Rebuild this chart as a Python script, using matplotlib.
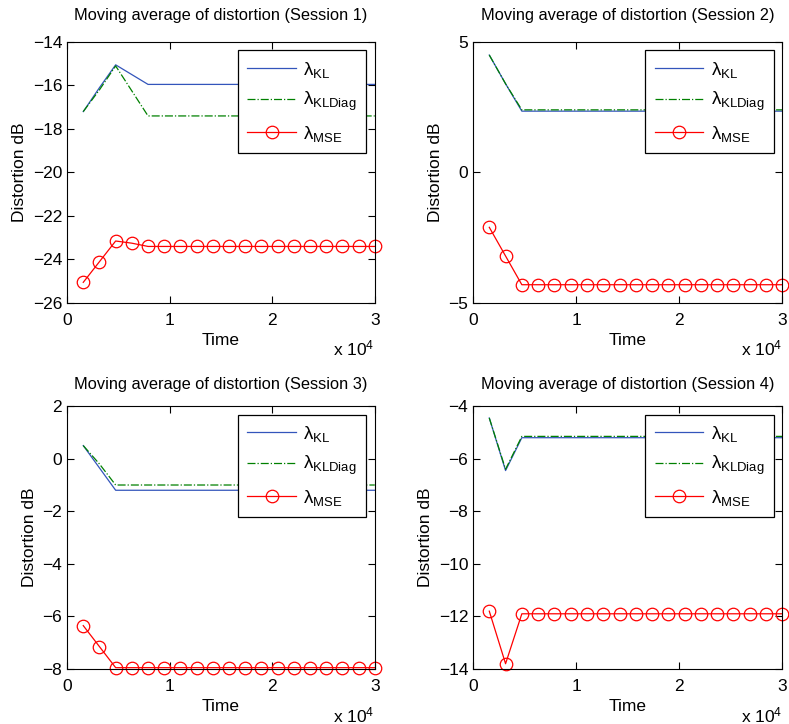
import matplotlib
matplotlib.use("Agg")
from matplotlib import pyplot as plt
from matplotlib.ticker import FuncFormatter, MultipleLocator

plt.rcParams['font.family'] = ['Liberation Sans', 'DejaVu Sans']
plt.rcParams['mathtext.fontset'] = 'custom'
plt.rcParams['mathtext.rm'] = 'Liberation Sans'
plt.rcParams['mathtext.it'] = 'Liberation Sans'

# sample times (same for all sessions)
time = [1579, 3158, 4737, 6316, 7895, 9474, 11053, 12632, 14211, 15789,
        17368, 18947, 20526, 22105, 23684, 25263, 26842, 28421, 30000]

# Session 1
kl_1 = [-17.2, -16.1, -15.05, -15.5, -15.95] + [-15.95] * 14
kldiag_1 = [-17.2, -16.2, -15.1, -16.25, -17.4] + [-17.4] * 14
mse_1 = [-25.05, -24.1, -23.15, -23.25, -23.4] + [-23.4] * 14

# Session 2
kl_2 = [4.5, 3.4, 2.35] + [2.35] * 16
kldiag_2 = [4.5, 3.4, 2.4] + [2.4] * 16
mse_2 = [-2.1, -3.2, -4.3] + [-4.3] * 16

# Session 3
kl_3 = [0.5, -0.35, -1.2] + [-1.2] * 16
kldiag_3 = [0.5, -0.2, -1.0] + [-1.0] * 16
mse_3 = [-6.35, -7.15, -7.95] + [-7.95] * 16

# Session 4
kl_4 = [-4.45, -6.45, -5.2] + [-5.2] * 16
kldiag_4 = [-4.45, -6.4, -5.15] + [-5.15] * 16
mse_4 = [-11.8, -13.8, -11.9] + [-11.9] * 16

sessions = [1, 2, 3, 4]
kl = [kl_1, kl_2, kl_3, kl_4]
kldiag = [kldiag_1, kldiag_2, kldiag_3, kldiag_4]
mse = [mse_1, mse_2, mse_3, mse_4]
ylims = [(-26, -14), (-5, 5), (-8, 2), (-14, -4)]
ysteps = [2, 5, 2, 2]

# axes boxes in figure fractions: left, bottom, width, height
boxes = [(0.085, 0.5815, 0.390, 0.3605),
         (0.5995, 0.5815, 0.392, 0.3605),
         (0.085, 0.076, 0.390, 0.363),
         (0.5995, 0.076, 0.392, 0.363)]

fig = plt.figure(figsize=(7.89, 7.24), dpi=100)

for i in range(4):
    ax = fig.add_axes(boxes[i])
    ax.plot(time, kl[i], color='#3355bb', linewidth=0.9, label=r'$\lambda_{\mathrm{KL}}$')
    ax.plot(time, kldiag[i], color='#008000', linewidth=0.9, linestyle='-.',
            label=r'$\lambda_{\mathrm{KLDiag}}$')
    ax.plot(time, mse[i], color='#ff0000', linewidth=0.9, marker='o', markersize=9,
            markerfacecolor='none', markeredgewidth=0.9, label=r'$\lambda_{\mathrm{MSE}}$',
            clip_on=False)
    ax.set_xlim(0, 30000)
    ax.set_ylim(*ylims[i])
    ax.xaxis.set_major_locator(MultipleLocator(10000))
    ax.yaxis.set_major_locator(MultipleLocator(ysteps[i]))
    ax.xaxis.set_major_formatter(FuncFormatter(lambda v, p: '{:g}'.format(v / 10000)))
    ax.yaxis.set_major_formatter(FuncFormatter(lambda v, p: '{:g}'.format(v).replace('-', '\u2212')))
    ax.tick_params(direction='in', top=True, right=True, labelsize=12.5, length=5)
    ax.tick_params(axis='x', pad=7)
    ax.set_title('Moving average of distortion (Session {})'.format(sessions[i]),
                 fontsize=11.8, pad=16 if i < 2 else 12)
    ax.set_xlabel('Time', fontsize=12.5, labelpad=4)
    ax.set_ylabel('Distortion dB', fontsize=12.5)
    ax.text(1.0, -0.175, r'x $10^4$', transform=ax.transAxes, ha='right', va='center', fontsize=12.5)
    leg = ax.legend(loc='upper right', fontsize=13.5, fancybox=False, framealpha=1,
                    handlelength=2.6, handletextpad=0.4, borderaxespad=0.45,
                    labelspacing=0.55, borderpad=0.5)
    leg.get_frame().set_edgecolor('black')
    leg.get_frame().set_linewidth(0.9)

fig.savefig('out.png', dpi=100)
